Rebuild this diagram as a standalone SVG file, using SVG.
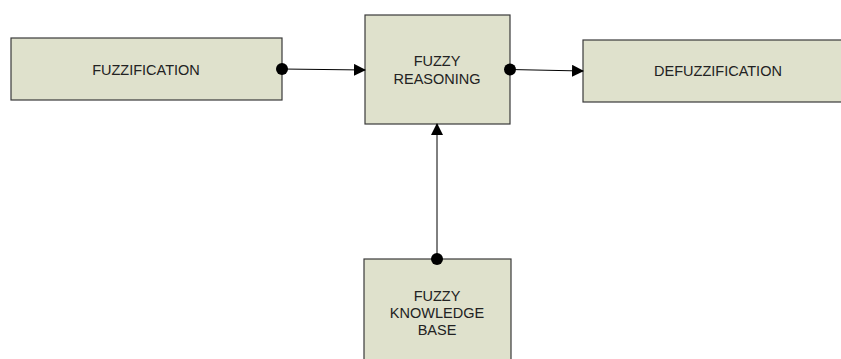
<svg xmlns="http://www.w3.org/2000/svg" width="841" height="359" viewBox="0 0 841 359">
<style>
.box{fill:#dfe1cc;stroke:#3a3a3a;stroke-width:1.2}
.t{font-family:"Liberation Sans",Arial,sans-serif;font-size:14.5px;fill:#222;text-anchor:middle}
.c{stroke:#000;stroke-width:1;fill:none}
</style>
<defs>
<marker id="arr" markerWidth="12" markerHeight="12" refX="11" refY="6" orient="auto" markerUnits="userSpaceOnUse">
<path d="M0,0 L12,6 L0,12 Z" fill="#000"/>
</marker>
<marker id="dot" markerWidth="14" markerHeight="14" refX="7" refY="7" markerUnits="userSpaceOnUse">
<circle cx="7" cy="7" r="6" fill="#000"/>
</marker>
</defs>
<rect width="841" height="359" fill="#fff"/>
<g id="fuzzification">
<rect class="box" x="11" y="38" width="271" height="62"/>
<text class="t" x="146" y="75">FUZZIFICATION</text>
</g>
<g id="fuzzy-reasoning">
<rect class="box" x="365" y="15" width="145" height="109"/>
<text class="t" x="437" y="66">FUZZY</text>
<text class="t" x="437" y="84">REASONING</text>
</g>
<g id="defuzzification">
<rect class="box" x="583" y="40" width="262" height="62"/>
<text class="t" x="718" y="76">DEFUZZIFICATION</text>
</g>
<g id="knowledge-base">
<rect class="box" x="364" y="259" width="147" height="110"/>
<text class="t" x="437" y="301">FUZZY</text>
<text class="t" x="437" y="318">KNOWLEDGE</text>
<text class="t" x="437" y="335">BASE</text>
</g>
<g id="connectors">
<path class="c" d="M282,69 L365,70" marker-start="url(#dot)" marker-end="url(#arr)"/>
<path class="c" d="M510,69.5 L583,71" marker-start="url(#dot)" marker-end="url(#arr)"/>
<path class="c" d="M437,259 L437,124" marker-start="url(#dot)" marker-end="url(#arr)"/>
</g>
</svg>
